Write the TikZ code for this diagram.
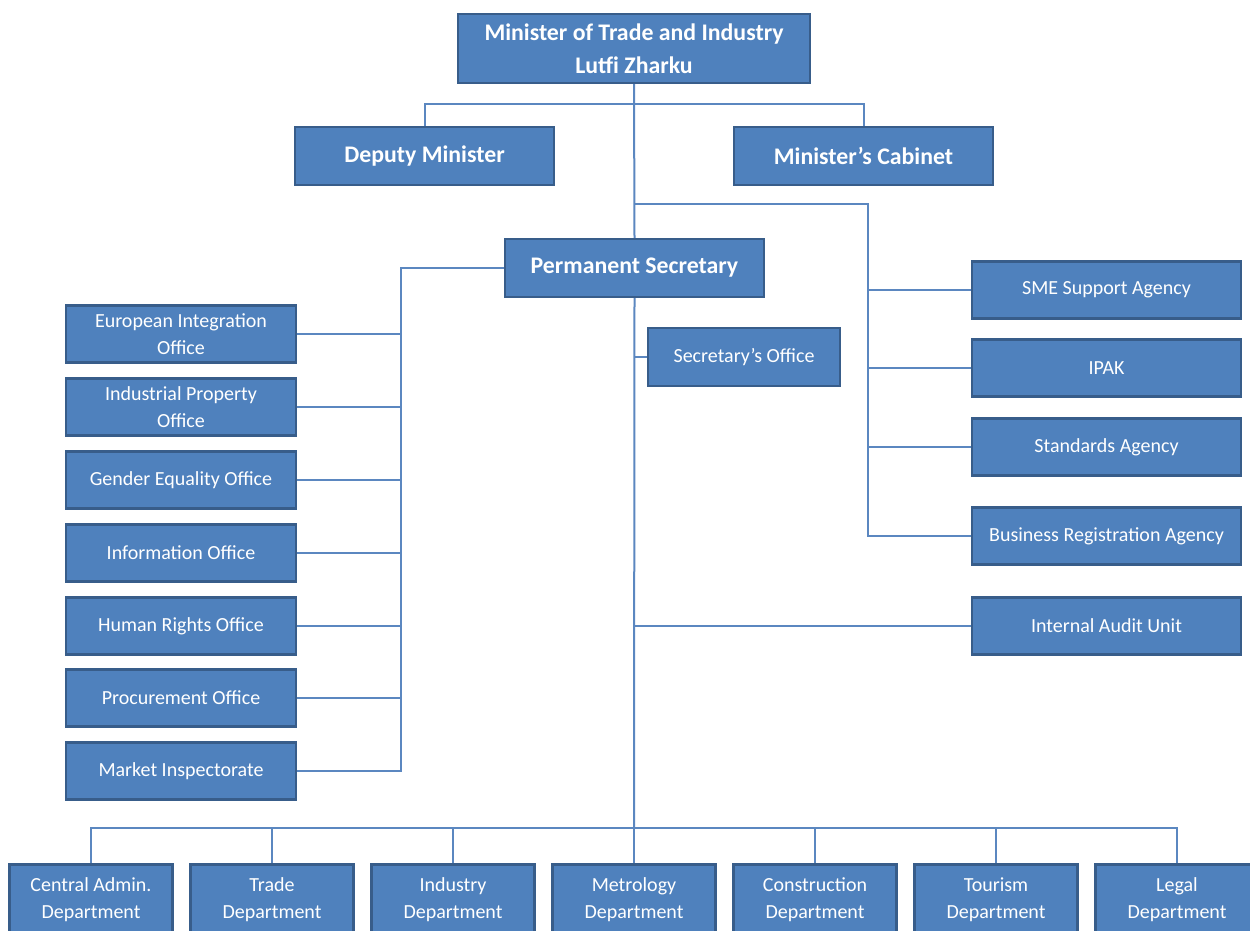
\documentclass[tikz,border=0pt]{standalone}
\usepackage{fontspec}
\setmainfont{Carlito}
\definecolor{boxfill}{HTML}{4F81BD}
\definecolor{boxline}{HTML}{385D8A}
\definecolor{conn}{HTML}{5B87C0}
\begin{document}
\begin{tikzpicture}[x=1pt,y=-1pt,
  box/.style={draw=boxline,fill=boxfill,line width=2.2pt,text=white,align=center,inner sep=0pt,
    font=\fontsize{20}{27.5}\selectfont},
  bigbox/.style={box,font=\fontsize{23.8}{33}\selectfont\bfseries},
  link/.style={draw=conn,line width=2pt}]
\clip (0,0) rectangle (1250,930);
\fill[white] (0,0) rectangle (1250,930);
% top
\node[bigbox,minimum width=352pt,minimum height=69pt] (min) at (634,48.5) {Minister of Trade and Industry\\Lutfi Zharku};
\node[bigbox,minimum width=259pt,minimum height=58pt] (dep) at (424.5,156) {Deputy Minister};
\node[bigbox,minimum width=259pt,minimum height=58pt] (cab) at (863.5,156) {Minister’s Cabinet};
\node[bigbox,minimum width=259pt,minimum height=58pt] (ps) at (634.5,268) {Permanent Secretary};
\node[box,minimum width=192pt,minimum height=58pt] (so) at (744,357) {Secretary’s Office};
% left column
\foreach \n/\y/\t in {eio/334/{European Integration\\Office},ipo/407/{Industrial Property\\Office},geo/480/{Gender Equality Office},
  inf/553/{Information Office},hro/626/{Human Rights Office},pro/698/{Procurement Office},mki/771/{Market Inspectorate}}
  \node[box,minimum width=230pt,minimum height=57pt] (\n) at (181,\y) {\t};
% right column
\foreach \n/\y/\t in {sme/290/{SME Support Agency},ipak/368/{IPAK},std/447/{Standards Agency},bra/536/{Business Registration Agency},iau/626/{Internal Audit Unit}}
  \node[box,minimum width=269pt,minimum height=57pt] (\n) at (1106.5,\y) {\t};
% bottom row
\foreach \n/\x/\t in {d1/91/{Central Admin.\\Department},d2/272/{Trade\\Department},d3/453/{Industry\\Department},d4/634/{Metrology\\Department},
  d5/815/{Construction\\Department},d6/996/{Tourism\\Department},d7/1177/{Legal\\Department}}
  \node[box,minimum width=163pt,minimum height=70pt] (\n) at (\x,899.5) {\t};
% coordinates
\coordinate (bh) at (634,104);
\coordinate (rh) at (634,204);
\coordinate (rv) at (868,204);
\coordinate (lh) at (401,268);
\coordinate (bb) at (634,828);
% connectors
\draw[link] (min.south) -- (ps.north);
\draw[link] (dep.north) |- (bh) -| (cab.north);
\draw[link] (rh) -- (rv) |- (bra.west);
\foreach \n in {sme,ipak,std} \draw[link] (rv |- \n.west) -- (\n.west);
\draw[link] (ps.west) -- (lh) |- (mki.east);
\foreach \n in {eio,ipo,geo,inf,hro,pro} \draw[link] (lh |- \n.east) -- (\n.east);
\draw[link] (ps.south) -- (bb);
\draw[link] (ps.south |- so.west) -- (so.west);
\draw[link] (ps.south |- iau.west) -- (iau.west);
\draw[link] (d1.north) |- (bb) -| (d7.north);
\foreach \n in {d2,d3,d4,d5,d6} \draw[link] (bb -| \n.north) -- (\n.north);
\end{tikzpicture}
\end{document}
